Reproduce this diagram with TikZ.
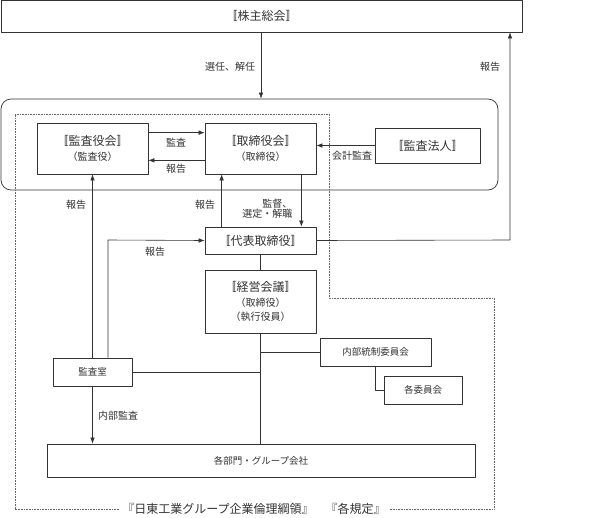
\documentclass[tikz,border=0pt]{standalone}
\usepackage{fontspec}
\setmainfont{Noto Sans CJK JP}
\usetikzlibrary{arrows.meta}
\tikzset{l/.style={font=\fontsize{10}{10}\selectfont}}
\tikzset{m/.style={font=\fontsize{9.5}{11}\selectfont}}
\tikzset{bx/.style={draw,line width=0.7pt,inner sep=0pt,align=center,font=\fontsize{12}{14}\selectfont}}
\newcommand{\sm}{\fontsize{10}{12}\selectfont}

\begin{document}
\begin{tikzpicture}[x=1pt,y=-1pt,line join=round,>={Latex[length=6pt,width=4.5pt]},
    color=black!80,line width=0.6pt]
  \useasboundingbox (0,0) rectangle (600,517);
  % frame of the board
  \node (board) [draw,rounded corners=10pt,line width=0.7pt,minimum width=497pt,minimum height=91pt] at (249.5,144.5) {};
  % boxes
  \node (soukai) [bx,minimum width=521pt,minimum height=32pt] at (261.5,16) {〚株主総会〛};
  \node (kansa) [bx,minimum width=111pt,minimum height=51pt] at (92.5,148.5) {〚監査役会〛\\[1pt]{\sm （監査役）}};
  \node (tori) [bx,minimum width=111pt,minimum height=51pt] at (260.5,148.5) {〚取締役会〛\\[1pt]{\sm （取締役）}};
  \node (houjin) [bx,minimum width=105pt,minimum height=35pt] at (427.5,145.5) {〚監査法人〛};
  \node (daihyo) [bx,minimum width=111pt,minimum height=27pt] at (260.5,240.5) {〚代表取締役〛};
  \node (keiei) [bx,minimum width=111pt,minimum height=63pt] at (260.5,301.5) {〚経営会議〛\\[1pt]{\sm （取締役）}\\{\sm （執行役員）}};
  \node (naibu) [bx,m,minimum width=111pt,minimum height=28pt] at (375.5,352) {内部統制委員会};
  \node (kakuiin) [bx,m,minimum width=78pt,minimum height=28pt] at (423,390) {各委員会};
  \node (shitsu) [bx,m,minimum width=79pt,minimum height=28pt] at (92.5,372) {監査室};
  \node (bumon) [bx,m,minimum width=428pt,minimum height=33pt] at (261,460.5) {各部門・グループ会社};
  \node (rules) [font=\fontsize{12}{14}\selectfont,inner sep=3pt] at (254,509) {『日東工業グループ企業倫理綱領』　『各規定』};
  % dotted frame
  \draw[densely dotted,black!60] (rules.west) -- (15,509) -- (15,114) -- (329,114) -- (329,298) -- (494,298) -- (494,509) -- (rules.east);
  % connectors
  \draw[->] (soukai.south -| 261,0) -- (board.north -| 261,0);
  \node [l] at (230,67) {選任、解任};
  \coordinate (r) at (510,240);
  \draw[->] (daihyo.east) -- (r) -- (r |- soukai.south);
  \node [l] at (490,67) {報告};
  \draw[->] ([yshift=-10pt]kansa.north east) -- ([yshift=-10pt]tori.north west);
  \node [l] at (176,143) {監査};
  \draw[->] ([yshift=14pt]tori.south west) -- ([yshift=14pt]kansa.south east);
  \node [l] at (176,169) {報告};
  \draw[->] (houjin.west) -- (houjin.west -| tori.east);
  \node [l] at (352,156) {会計監査};
  \draw[->] (shitsu.north) -- (kansa.south);
  \node [l] at (76,205) {報告};
  \draw[->] ([xshift=17pt]daihyo.north west) -- ([xshift=17pt]tori.south west);
  \node [l] at (205,205) {報告};
  \draw[->] ([xshift=-15pt]tori.south east) -- ([xshift=-15pt]daihyo.north east);
  \node [l,align=right,anchor=east] at (296,209) {監督、\\選定・解職};
  \coordinate (k) at (108,240);
  \draw[->] (k |- shitsu.north) -- (k) -- (daihyo.west);
  \node [l] at (155,252) {報告};
  \draw (daihyo.south) -- (keiei.north);
  \draw (keiei.south) -- (keiei.south |- bumon.north);
  \draw (keiei.south |- naibu.west) -- (naibu.west);
  \draw (shitsu.east) -- (keiei.south |- shitsu.east);
  \draw (naibu.south) |- (kakuiin.west);
  \draw[->] (shitsu.south) -- (shitsu.south |- bumon.north);
  \node [l] at (118,416) {内部監査};
\end{tikzpicture}
\end{document}
